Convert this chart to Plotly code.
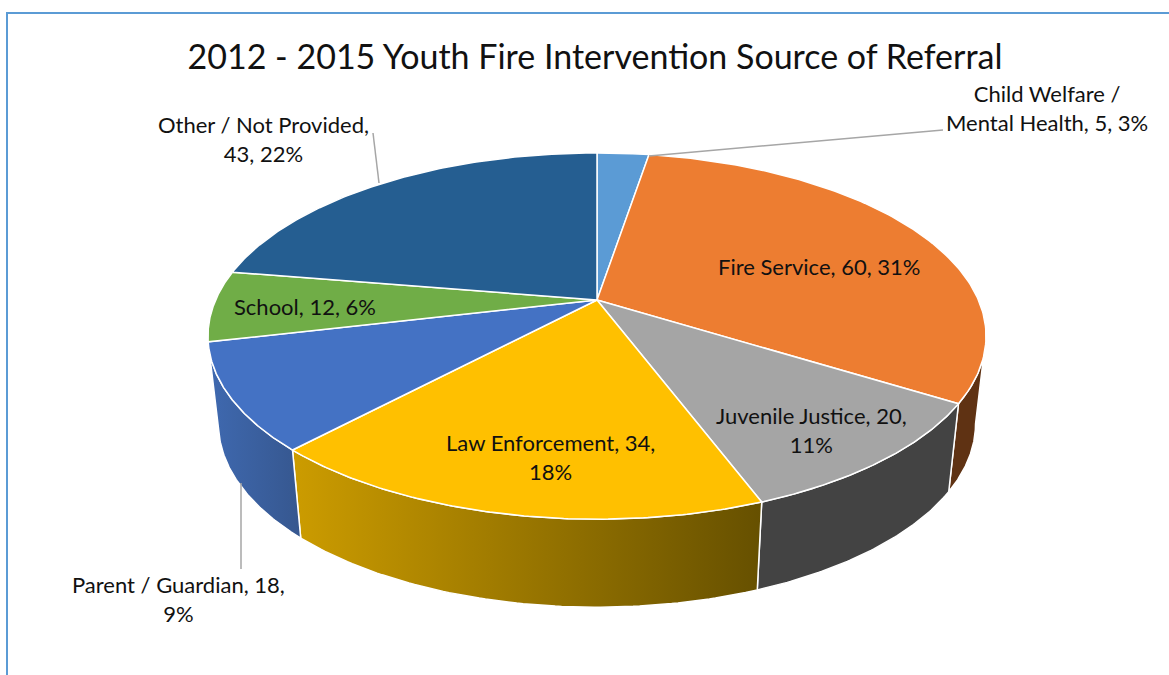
import numpy as np
import plotly.graph_objects as go

title = "2012 - 2015 Youth Fire Intervention Source of Referral"
categories = ["Child Welfare / Mental Health", "Fire Service", "Juvenile Justice",
              "Law Enforcement", "Parent / Guardian", "School", "Other / Not Provided"]
values = [5, 60, 20, 34, 18, 12, 43]
percents = [3, 31, 11, 18, 9, 6, 22]

top_colors = ["#5B9BD5", "#ED7D31", "#A5A5A5", "#FFC000", "#4472C4", "#70AD47", "#255E91"]
wall_styles = {1: ("#5F3213", "#5F3213"), 2: ("#434343", "#434343"),
               3: ("#CC9C00", "#665000"), 4: ("#3F69B0", "#36578F")}

# label line breaks and placement, in page pixels
label_text = ["Child Welfare /<br>Mental Health, {v}, {p}%", "Fire Service, {v}, {p}%",
              "Juvenile Justice, {v},<br>{p}%", "Law Enforcement, {v},<br>{p}%",
              "Parent / Guardian, {v},<br>{p}%", "School, {v}, {p}%",
              "Other / Not Provided,<br>{v}, {p}%"]
label_pos = [(1047, 108), (819, 266), (811, 430), (550, 457), (178, 599), (305, 306), (263, 139)]
leaders = [([943, 649], [130, 156]), None, None, None, ([241, 241], [569, 483]), None,
           ([373, 379], [133, 183])]

W, H = 1169, 675
CX, CY, A, B, K = 597, 300, 381.4, 176, 0.197   # perspective ellipse of the top face
WALL_SCALE, WALL_Y = 0.973, 388                  # lower rim


def rim(theta, scale=1.0, y0=CY):
    d = 1 + K * np.cos(theta)
    return CX + scale * A * np.sin(theta) / d, y0 - B * np.cos(theta) / d


edges = 2 * np.pi * np.cumsum([0] + values) / sum(values)
silhouette = np.arccos(-K)   # where the rim is widest: the wall starts here
fig = go.Figure()

# side walls (front of the pie only)
for i, (c0, c1) in wall_styles.items():
    t0 = max(edges[i], silhouette)
    t1 = edges[i + 1]
    t = np.linspace(t0, t1, 80)
    xt, yt = rim(t)
    xb, yb = rim(t[::-1], WALL_SCALE, WALL_Y)
    fig.add_trace(go.Scatter(
        x=np.r_[xt, xb, xt[0]], y=np.r_[yt, yb, yt[0]], mode="lines", fill="toself",
        line=dict(color="white", width=1.5),
        fillgradient=dict(type="horizontal", colorscale=[[0, c0], [1, c1]]),
        hoverinfo="skip", showlegend=False))

# top face slices
for i, cat in enumerate(categories):
    t = np.linspace(edges[i], edges[i + 1], 120)
    xr, yr = rim(t)
    fig.add_trace(go.Scatter(
        x=np.r_[CX, xr, CX], y=np.r_[CY, yr, CY], mode="lines", fill="toself",
        fillcolor=top_colors[i], line=dict(color="white", width=1.5),
        name=cat, hoverinfo="name", showlegend=False))

# leader lines
for seg in leaders:
    if seg:
        fig.add_trace(go.Scatter(x=seg[0], y=seg[1], mode="lines",
                                 line=dict(color="#A6A6A6", width=1.5),
                                 hoverinfo="skip", showlegend=False))

# frame
fig.add_trace(go.Scatter(x=[7, 7, W], y=[H, 13, 13], mode="lines",
                         line=dict(color="#5B9BD5", width=2),
                         hoverinfo="skip", showlegend=False))

for i, (x, y) in enumerate(label_pos):
    fig.add_annotation(x=x, y=y, xref="x", yref="y", showarrow=False, align="center",
                       text=label_text[i].format(v=values[i], p=percents[i]),
                       font=dict(family="Lato", size=22, color="#111111"))

fig.update_layout(
    width=W, height=H, margin=dict(l=0, r=0, t=0, b=0),
    paper_bgcolor="white", plot_bgcolor="white", showlegend=False,
    title=dict(text=title, x=595 / W, xanchor="center", y=1 - 57 / H, yanchor="middle",
               font=dict(family="Lato", size=34, color="#111111")),
    xaxis=dict(range=[0, W], visible=False, fixedrange=True),
    yaxis=dict(range=[H, 0], visible=False, fixedrange=True),
)
fig.write_html("out.html", config=dict(displayModeBar=False),
               post_script="document.body.style.margin='0';document.documentElement.style.overflow='hidden';")
